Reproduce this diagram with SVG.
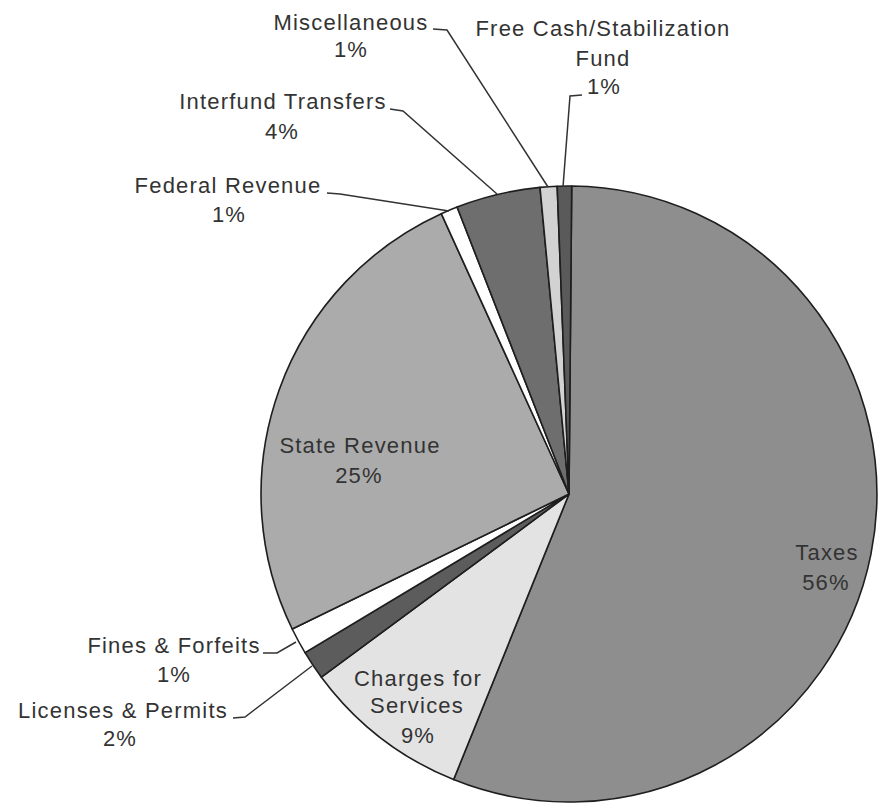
<svg xmlns="http://www.w3.org/2000/svg" width="882" height="808" viewBox="0 0 882 808">
<style>
.sl{stroke:#1e1e1e;stroke-width:1.6;stroke-linejoin:round}
.lbl{font-family:"Liberation Sans",Arial,sans-serif;font-size:22px;fill:#333;letter-spacing:1.2px;text-anchor:middle}
.ldr{fill:none;stroke:#333;stroke-width:1.5}
</style>
<rect width="882" height="808" fill="#fff"/>
<g id="pie">
<g id="taxes"><path class="sl" fill="#8e8e8e" d="M569 494 L571.7 186 A308 308 0 1 1 453.6 779.6 Z"/></g>
<g id="charges"><path class="sl" fill="#e3e3e3" d="M569 494 L453.6 779.6 A308 308 0 0 1 321.4 677.2 Z"/></g>
<g id="licenses"><path class="sl" fill="#5c5c5c" d="M569 494 L321.4 677.2 A308 308 0 0 1 305 652.6 Z"/></g>
<g id="fines"><path class="sl" fill="#ffffff" d="M569 494 L305 652.6 A308 308 0 0 1 292.2 629 Z"/></g>
<g id="state"><path class="sl" fill="#ababab" d="M569 494 L292.2 629 A308 308 0 0 1 441.3 213.7 Z"/></g>
<g id="federal"><path class="sl" fill="#ffffff" d="M569 494 L441.3 213.7 A308 308 0 0 1 457.1 207 Z"/></g>
<g id="interfund"><path class="sl" fill="#6e6e6e" d="M569 494 L457.1 207 A308 308 0 0 1 540 187.4 Z"/></g>
<g id="misc"><path class="sl" fill="#d2d2d2" d="M569 494 L540 187.4 A308 308 0 0 1 557.2 186.2 Z"/></g>
<g id="freecash"><path class="sl" fill="#5a5a5a" d="M569 494 L557.2 186.2 A308 308 0 0 1 571.7 186 Z"/></g>
</g>
<g id="connectors">
<polyline class="ldr" points="433,29 447,30 548,187"/>
<polyline class="ldr" points="582,95 570,96 563,187"/>
<polyline class="ldr" points="390,109 403,111 497,194"/>
<polyline class="ldr" points="327,193 340,194 449,211"/>
<polyline class="ldr" points="263,653 277,653 296,642"/>
<polyline class="ldr" points="233,718 245,717 312,666"/>
</g>
<g id="labels">
<text class="lbl" x="351" y="30">Miscellaneous</text>
<text class="lbl" x="351" y="57">1%</text>
<text class="lbl" x="603" y="36">Free Cash/Stabilization</text>
<text class="lbl" x="603" y="66">Fund</text>
<text class="lbl" x="604" y="94">1%</text>
<text class="lbl" x="283" y="109">Interfund Transfers</text>
<text class="lbl" x="282" y="139">4%</text>
<text class="lbl" x="228" y="193">Federal Revenue</text>
<text class="lbl" x="229" y="222">1%</text>
<text class="lbl" x="360" y="453">State Revenue</text>
<text class="lbl" x="359" y="483">25%</text>
<text class="lbl" x="827" y="560">Taxes</text>
<text class="lbl" x="826" y="590">56%</text>
<text class="lbl" x="174" y="653">Fines &amp; Forfeits</text>
<text class="lbl" x="174" y="682">1%</text>
<text class="lbl" x="123" y="718">Licenses &amp; Permits</text>
<text class="lbl" x="120" y="746">2%</text>
<text class="lbl" x="418" y="686">Charges for</text>
<text class="lbl" x="417" y="713">Services</text>
<text class="lbl" x="418" y="743">9%</text>
</g>
</svg>
